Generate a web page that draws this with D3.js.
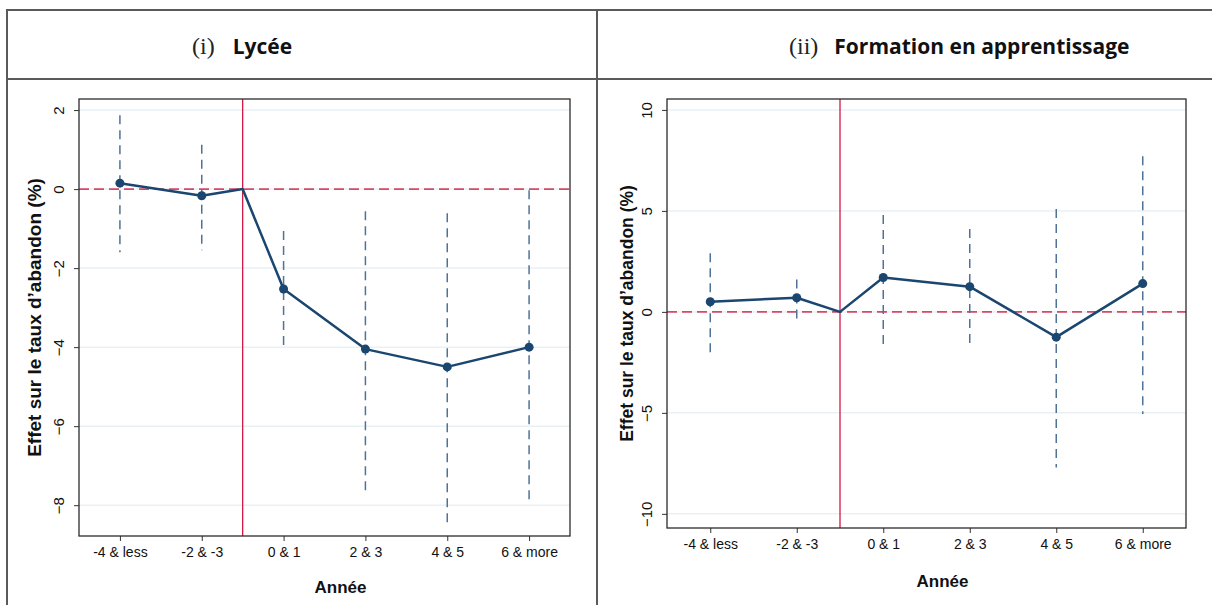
<!DOCTYPE html>
<html>
<head>
<meta charset="utf-8">
<script src="https://cdn.jsdelivr.net/npm/d3@7"></script>
<style>
  body { margin: 0; background: #fff; }
  svg text { fill: #111; }
</style>
</head>
<body>
<div id="chart"></div>
<script>
// categories on the x axis
const categories = ["-4 & less", "-2 & -3", "0 & 1", "2 & 3", "4 & 5", "6 & more"];

// panel (i) Lycée
const lyceeEst = [0.15, -0.17, -2.53, -4.05, -4.5, -4.0];
const lyceeLow = [-1.6, -1.55, -4.05, -7.65, -8.5, -8.0];
const lyceeHigh = [1.87, 1.12, -1.06, -0.56, -0.61, -0.03];
const lyceeTicks = [2, 0, -2, -4, -6, -8];

// panel (ii) Formation en apprentissage
const apprEst = [0.5, 0.7, 1.7, 1.25, -1.25, 1.4];
const apprLow = [-2.0, -0.5, -1.6, -1.7, -7.7, -5.05];
const apprHigh = [2.9, 1.6, 4.8, 4.1, 5.1, 7.7];
const apprTicks = [10, 5, 0, -5, -10];

// reference period sits between "-2 & -3" and "0 & 1", at 0
const refPos = 1.5;
const refVal = 0;

const W = 1212, H = 605;
const svg = d3.select("#chart").append("svg")
    .attr("width", W).attr("height", H);

// table borders
const border = "#5a5a5a";
svg.append("line").attr("x1", 7).attr("x2", W).attr("y1", 10).attr("y2", 10)
  .attr("stroke", border).attr("stroke-width", 2);
svg.append("line").attr("x1", 7).attr("x2", W).attr("y1", 79).attr("y2", 79)
  .attr("stroke", border).attr("stroke-width", 2);
svg.append("line").attr("x1", 7).attr("x2", 7).attr("y1", 9).attr("y2", H)
  .attr("stroke", border).attr("stroke-width", 2);
svg.append("line").attr("x1", 597).attr("x2", 597).attr("y1", 9).attr("y2", H)
  .attr("stroke", border).attr("stroke-width", 2);

function title(x, roman, label, gap) {
  const t = svg.append("text").attr("x", x).attr("y", 54);
  t.append("tspan").text(roman)
    .style("font-family", "'Liberation Serif', 'DejaVu Serif', serif")
    .style("font-size", "24px").style("fill", "#222");
  t.append("tspan").attr("dx", gap).text(label)
    .style("font-family", "'Open Sans', 'Liberation Sans', sans-serif")
    .style("font-weight", "bold").style("font-size", "21px");
}
title(192, "(i)", "Lycée", 18);
title(789, "(ii)", "Formation en apprentissage", 16);

function panel(box, domainY, ticks, est, low, high, ylabX, ylabSize, xlabY) {
  const x = d3.scaleLinear().domain([-0.5, 5.5]).range([box.left, box.right]);
  const y = d3.scaleLinear().domain(domainY).range([box.bottom, box.top]);
  const g = svg.append("g");

  // gridlines
  g.selectAll(".grid").data(ticks).join("line")
    .attr("x1", box.left).attr("x2", box.right)
    .attr("y1", d => y(d)).attr("y2", d => y(d))
    .attr("stroke", "#e9f1f5").attr("stroke-width", 1.5);

  // y axis
  const ya = g.append("g").attr("transform", `translate(${box.left},0)`)
    .call(d3.axisLeft(y).tickValues(ticks).tickSize(5));
  ya.select(".domain").remove();
  ya.selectAll(".tick line").attr("stroke", "#333");
  ya.selectAll(".tick text")
    .attr("x", 0).attr("y", 0).attr("dy", 0)
    .attr("text-anchor", "middle")
    .attr("transform", "translate(-15,0) rotate(-90)")
    .style("font-family", "'Liberation Sans Narrow', 'Liberation Sans', sans-serif")
    .style("font-size", "15px");

  // x axis
  const xa = g.append("g").attr("transform", `translate(0,${box.bottom})`)
    .call(d3.axisBottom(x).tickValues(d3.range(categories.length))
      .tickFormat(i => categories[i]).tickSize(5).tickPadding(6));
  xa.select(".domain").remove();
  xa.selectAll(".tick line").attr("stroke", "#333");
  xa.selectAll(".tick text")
    .style("font-family", "'Liberation Sans Narrow', 'Liberation Sans', sans-serif")
    .style("font-size", "14px");

  // zero line
  g.append("line").attr("x1", box.left).attr("x2", box.right)
    .attr("y1", y(0)).attr("y2", y(0))
    .attr("stroke", "#d9486a").attr("stroke-width", 1.6)
    .attr("stroke-dasharray", "10,5");

  // reference period line
  g.append("line").attr("x1", x(refPos)).attr("x2", x(refPos))
    .attr("y1", box.top).attr("y2", box.bottom)
    .attr("stroke", "#d41745").attr("stroke-width", 1.3);

  // confidence intervals
  g.selectAll(".ci").data(categories).join("line")
    .attr("x1", (d, i) => x(i)).attr("x2", (d, i) => x(i))
    .attr("y1", (d, i) => y(high[i])).attr("y2", (d, i) => y(low[i]))
    .attr("stroke", "#4f7396").attr("stroke-width", 1.5)
    .attr("stroke-dasharray", "9,6");

  // estimate line incl. reference point
  const pts = est.map((v, i) => ({pos: i, val: v}));
  pts.splice(2, 0, {pos: refPos, val: refVal});
  g.append("path").datum(pts)
    .attr("fill", "none").attr("stroke", "#1a466f").attr("stroke-width", 2.5)
    .attr("stroke-linejoin", "round")
    .attr("d", d3.line().x(d => x(d.pos)).y(d => y(d.val)));

  g.selectAll(".pt").data(est).join("circle")
    .attr("cx", (d, i) => x(i)).attr("cy", d => y(d))
    .attr("r", 4.5).attr("fill", "#1a466f");

  // frame
  g.append("rect").attr("x", box.left).attr("y", box.top)
    .attr("width", box.right - box.left).attr("height", box.bottom - box.top)
    .attr("fill", "none").attr("stroke", "#2b2b2b").attr("stroke-width", 1.3);

  // axis titles
  const midY = (box.top + box.bottom) / 2;
  svg.append("text")
    .attr("transform", `translate(${ylabX},${midY}) rotate(-90)`)
    .attr("text-anchor", "middle")
    .style("font-family", "'Liberation Sans', Arial, sans-serif")
    .style("font-weight", "bold").style("font-size", ylabSize + "px")
    .text("Effet sur le taux d’abandon (%)");
  svg.append("text")
    .attr("x", (box.left + box.right) / 2 + 16).attr("y", xlabY)
    .attr("text-anchor", "middle")
    .style("font-family", "'Liberation Sans', Arial, sans-serif")
    .style("font-weight", "bold").style("font-size", "17px")
    .text("Année");
}

panel({left: 79, right: 570, top: 99, bottom: 536}, [-8.78, 2.28], lyceeTicks,
      lyceeEst, lyceeLow, lyceeHigh, 41, 19, 593);
panel({left: 667, right: 1186, top: 99, bottom: 528}, [-10.7, 10.54], apprTicks,
      apprEst, apprLow, apprHigh, 633, 17.5, 587);
</script>
</body>
</html>
